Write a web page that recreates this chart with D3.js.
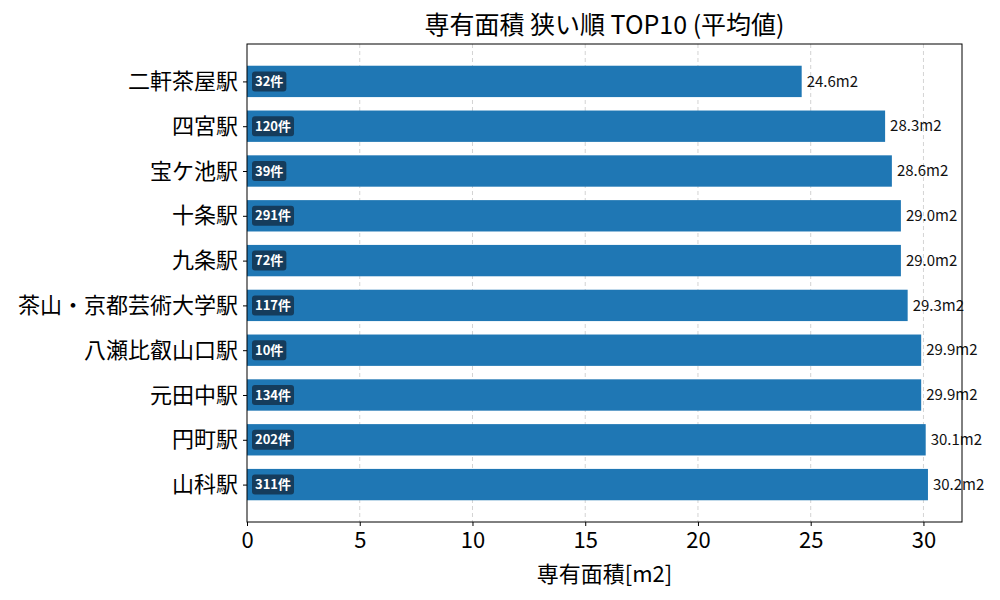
<!DOCTYPE html>
<html><head><meta charset="utf-8">
<script src="https://cdn.jsdelivr.net/npm/d3@7"></script>
<style>body{margin:0;background:#fff;} text{font-family:"Noto Sans CJK JP","Noto Sans",sans-serif;}</style>
</head><body>
<svg id="c" width="1000" height="600"></svg>
<script>
const stations = ["二軒茶屋駅","四宮駅","宝ケ池駅","十条駅","九条駅","茶山・京都芸術大学駅","八瀬比叡山口駅","元田中駅","円町駅","山科駅"];
const areas = [24.6, 28.3, 28.6, 29.0, 29.0, 29.3, 29.9, 29.9, 30.1, 30.2];
const counts = [32, 120, 39, 291, 72, 117, 10, 134, 202, 311];
const xTicks = [0, 5, 10, 15, 20, 25, 30];

const svg = d3.select("#c");
const L = 247, R = 962, T = 44, B = 522;
const x = d3.scaleLinear().domain([0, d3.max(areas) * 1.05]).range([L, R]);
const y = d3.scaleLinear().domain([-0.835, 9.835]).range([T, B]);
const bh = y(0.35) - y(-0.35);

// grid
svg.append("g").selectAll("line").data(xTicks.filter(d => d > 0)).join("line")
  .attr("x1", d => x(d)).attr("x2", d => x(d)).attr("y1", T).attr("y2", B)
  .attr("stroke", "#b0b0b0").attr("stroke-opacity", 0.7).attr("stroke-dasharray", "4,3").attr("stroke-width", 0.8);

// bars
svg.append("g").selectAll("rect").data(areas).join("rect")
  .attr("x", x(0)).attr("y", (d, i) => y(i) - bh / 2)
  .attr("width", d => x(d) - x(0)).attr("height", bh).attr("fill", "#1f77b4");

// value labels
svg.append("g").selectAll("text").data(areas).join("text")
  .attr("x", d => x(d) + 5).attr("y", (d, i) => y(i)).attr("dy", "0.35em")
  .attr("font-size", 15).attr("fill", "#111").text(d => d.toFixed(1) + "m2");

// count badges
const bg = svg.append("g").selectAll("g").data(counts).join("g");
bg.each(function(d, i) {
  const g = d3.select(this);
  const t = g.append("text").attr("x", x(0) + 8).attr("y", y(i)).attr("dy", "0.35em")
    .attr("font-size", 13).attr("font-weight", "bold").attr("fill", "#fff").text(d + "件");
  const bb = t.node().getBBox();
  g.insert("rect", "text").attr("x", bb.x - 3).attr("y", y(i) - 10).attr("width", bb.width + 6).attr("height", 20)
    .attr("rx", 3).attr("fill", "#153c5c");
});

// axes frame
svg.append("rect").attr("x", L).attr("y", T).attr("width", R - L).attr("height", B - T)
  .attr("fill", "none").attr("stroke", "#000").attr("stroke-width", 1);

// x axis
const xa = svg.append("g").attr("transform", `translate(0,${B})`)
  .call(d3.axisBottom(x).tickValues(xTicks).tickSize(4).tickFormat(d3.format("d")));
xa.select(".domain").remove();
xa.selectAll("text").attr("font-size", 22).attr("fill", "#000").attr("dy", "0.85em")
  .style("font-family", '"Noto Sans CJK JP",sans-serif');

// y axis
const ya = svg.append("g").attr("transform", `translate(${L},0)`)
  .call(d3.axisLeft(y).tickValues(d3.range(10)).tickSize(4).tickFormat(i => stations[i]));
ya.select(".domain").remove();
ya.selectAll("text").attr("font-size", 22).attr("fill", "#000").attr("x", -9)
  .style("font-family", '"Noto Sans CJK JP",sans-serif');

// titles
svg.append("text").attr("x", (L + R) / 2).attr("y", 34).attr("text-anchor", "middle")
  .attr("font-size", 25).attr("fill", "#000").text("専有面積 狭い順 TOP10 (平均値)");
svg.append("text").attr("x", (L + R) / 2).attr("y", 582).attr("text-anchor", "middle")
  .attr("font-size", 22).attr("fill", "#000").text("専有面積[m2]");
</script>
</body></html>
